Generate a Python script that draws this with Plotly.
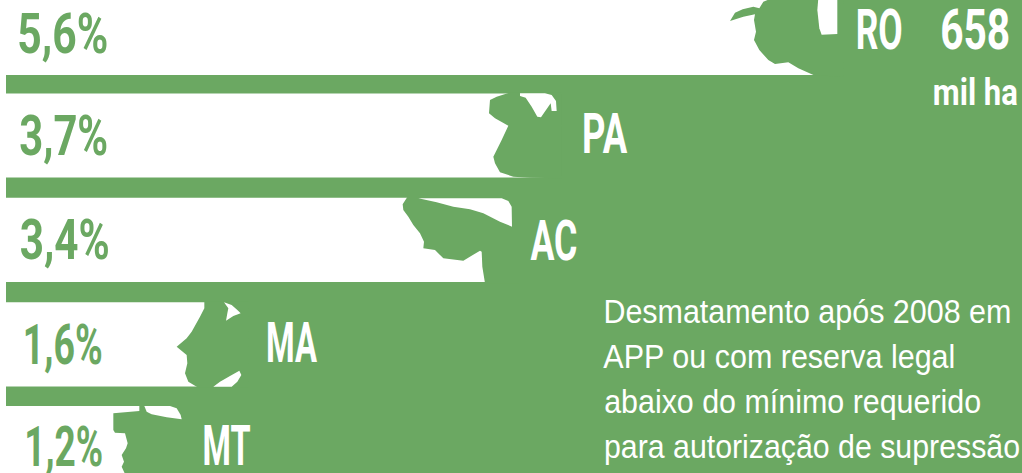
import json

import plotly.graph_objects as go

WIDTH = 1022
HEIGHT = 473
GREEN = "#6BA862"
WHITE = "#FFFFFF"

STATES = ["RO", "PA", "AC", "MA", "MT"]
SHARES = [5.6, 3.7, 3.4, 1.6, 1.2]
SHARE_LABELS = ["5,6%", "3,7%", "3,4%", "1,6%", "1,2%"]
TOTAL_LABEL = "658"
UNIT_LABEL = "mil ha"
NOTE_LINES = [
    "Desmatamento após 2008 em",
    "APP ou com reserva legal",
    "abaixo do mínimo requerido",
    "para autorização de supressão",
]

BAR_WIDTHS = [0.842, 0.804, 0.806, 0.808, 0.823]
PX_PER_POINT = 149
LEFT_PAD = 6
ROW_PITCH = 104.5
FIRST_ROW = 30.9

# the poster faces are condensed, so these labels get squeezed to their measured width in px
LABEL_WIDTHS = {
    "5,6%": 91, "3,7%": 89, "3,4%": 90, "1,6%": 80, "1,2%": 79,
    "RO": 47, "PA": 45, "AC": 47, "MA": 51, "MT": 48,
    "658": 70, "mil ha": 85,
    NOTE_LINES[0]: 408, NOTE_LINES[1]: 352, NOTE_LINES[2]: 377, NOTE_LINES[3]: 416,
}

STATE_SHAPES = [
    (700, 0, [(218, -6), (190, 5), (178, 25), (160, 20), (128, 28), (105, 38), (90, 63), (130, 50),
              (165, 43), (162, 60), (168, 95), (162, 120), (178, 150), (205, 180), (225, 192),
              (265, 187), (295, 205), (342, 226), (430, 230), (430, -6)]),
    (380, 85, [(392, 22), (350, 35), (330, 45), (327, 85), (345, 100), (385, 122), (365, 165),
               (340, 215), (345, 235), (360, 262), (400, 275), (450, 278), (545, 280), (545, 22)]),
    (380, 85, [(82, 336), (68, 358), (70, 375), (85, 395), (100, 420), (120, 445), (132, 470),
               (130, 490), (165, 495), (190, 520), (250, 527), (300, 497), (305, 500), (307, 545),
               (315, 595), (415, 595), (415, 336)]),
    (0, 280, [(613, 64), (613, 85), (600, 110), (575, 155), (560, 175), (530, 200), (560, 225),
              (562, 250), (555, 280), (565, 305), (595, 323), (745, 323), (745, 64)]),
    (0, 280, [(418, 375), (418, 393), (340, 400), (340, 450), (345, 458), (375, 460), (383, 490),
              (378, 505), (365, 525), (372, 545), (365, 560), (375, 582), (570, 582), (570, 375)]),
]
# white gaps left inside the silhouettes
STATE_GAPS = [
    (700, 0, [(355, -6), (352, 30), (358, 85), (365, 104), (412, 102), (412, -6)]),
    (380, 85, [(420, 25), (495, 25), (515, 30), (528, 48), (530, 78), (515, 78), (512, 55), (483, 97),
               (472, 95), (455, 65), (437, 38), (420, 33)]),
    (380, 85, [(115, 340), (365, 340), (385, 348), (395, 365), (396, 425), (360, 410), (310, 385),
               (270, 373), (220, 365), (170, 352)]),
    (0, 280, [(672, 67), (695, 75), (712, 90), (722, 100), (700, 108), (678, 122), (682, 100), (685, 85)]),
    (0, 280, [(640, 320), (660, 305), (690, 288), (718, 272), (724, 285), (712, 305), (695, 320)]),
    (0, 280, [(433, 378), (510, 378), (530, 385), (542, 405), (545, 418), (500, 412), (455, 403), (440, 395)]),
]


def paper_x(x):
    return (x - LEFT_PAD) / (WIDTH - LEFT_PAD)


def polygon(crop, color):
    ox, oy, points = crop
    coords = [(ox + x / 3, oy + y / 3) for x, y in points]
    path = "M " + " L ".join(f"{paper_x(x):.5f} {1 - y / HEIGHT:.5f}" for x, y in coords) + " Z"
    return dict(type="path", xref="paper", yref="paper", path=path, fillcolor=color, line_width=0, layer="above")


def label(text, x, y, size, color, family="Roboto", weight=700):
    return dict(
        text=text, x=paper_x(x), y=1 - y / HEIGHT, xref="paper", yref="paper",
        xanchor="center", yanchor="middle", showarrow=False,
        font=dict(family=family, size=size, color=color, weight=weight),
    )


fig = go.Figure(
    go.Bar(
        y=STATES,
        x=SHARES,
        orientation="h",
        width=BAR_WIDTHS,
        marker=dict(color=WHITE, line_width=0),
        hoverinfo="skip",
    )
)

annotations = []
for text, x, y in zip(SHARE_LABELS, [62.5, 63.5, 64, 62, 63.5], [34, 136, 240, 345, 447]):
    annotations.append(label(text, x, y, 56, GREEN))
for state, x, y in zip(STATES, [878.5, 604.5, 553.5, 291.5, 226], [30, 133.5, 241, 343, 446]):
    annotations.append(label(state, x, y, 56, WHITE))
annotations.append(label(TOTAL_LABEL, 975, 30, 56, WHITE))
annotations.append(label(UNIT_LABEL, 975.5, 93, 36, WHITE))
for line, x, y in zip(NOTE_LINES, [807.5, 779.5, 792, 812], [311.3, 356.3, 401.3, 446.3]):
    annotations.append(label(line, x, y, 33.5, WHITE, family="Liberation Sans", weight=400))

fig.update_layout(
    width=WIDTH,
    height=HEIGHT,
    margin=dict(l=LEFT_PAD, r=0, t=0, b=0),
    paper_bgcolor=WHITE,
    plot_bgcolor=GREEN,
    showlegend=False,
    xaxis=dict(visible=False, range=[0, (WIDTH - LEFT_PAD) / PX_PER_POINT]),
    yaxis=dict(
        visible=False,
        range=[(HEIGHT - FIRST_ROW) / ROW_PITCH, -FIRST_ROW / ROW_PITCH],
    ),
    shapes=[polygon(c, GREEN) for c in STATE_SHAPES] + [polygon(c, WHITE) for c in STATE_GAPS],
    annotations=annotations,
)

post_script = """
document.body.style.margin = '0';
var widths = %s;
document.querySelectorAll('.annotation-text').forEach(function (t) {
  var w = widths[t.textContent];
  if (w) {
    t.setAttribute('lengthAdjust', 'spacingAndGlyphs');
    t.setAttribute('textLength', w);
  }
});
""" % json.dumps(LABEL_WIDTHS)

fig.write_html("out.html", config={"displayModeBar": False}, post_script=post_script)
